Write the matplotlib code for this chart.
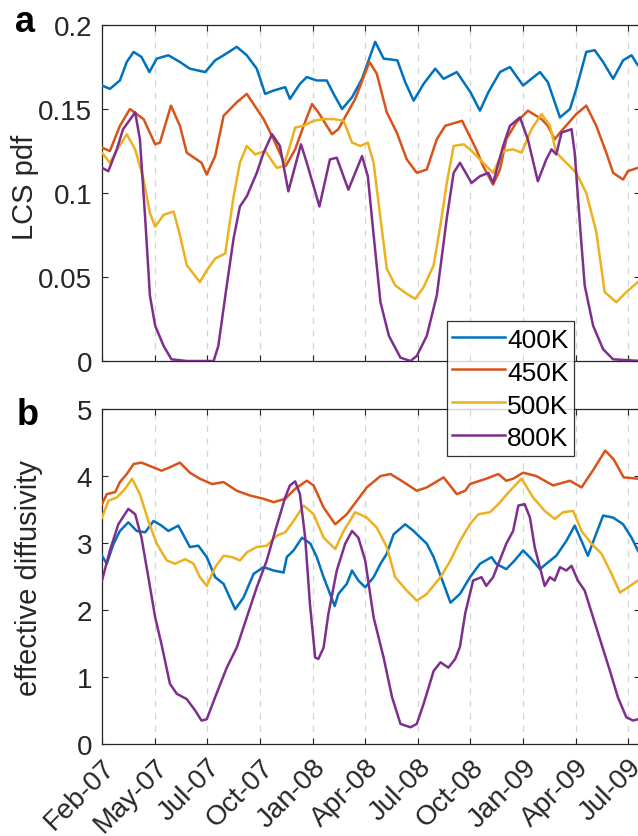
import numpy as np
import matplotlib
matplotlib.use('Agg')
import matplotlib.pyplot as plt

plt.rcParams['font.family'] = ['Liberation Sans', 'DejaVu Sans']

########## Data (x in tick units: 0 = Feb-07, 1 = May-07, ...) ##########
tick_labels = ['Feb-07', 'May-07', 'Jul-07', 'Oct-07', 'Jan-08', 'Apr-08',
               'Jul-08', 'Oct-08', 'Jan-09', 'Apr-09', 'Jul-09']
series_names = ['400K', '450K', '500K', '800K']
colors = ['#0072BD', '#D95319', '#EDB120', '#7E2F8E']

# panel a: LCS pdf
t_a400 = [0, 0.15, 0.34, 0.47, 0.60, 0.75, 0.90, 1.04, 1.26, 1.48, 1.67, 1.96, 2.15, 2.31, 2.56,
          2.75, 2.94, 3.10, 3.26, 3.48, 3.57, 3.76, 3.89, 4.08, 4.27, 4.40, 4.56, 4.75, 4.94, 5.19,
          5.35, 5.61, 5.76, 5.92, 6.11, 6.33, 6.49, 6.74, 7.0, 7.18, 7.34, 7.56, 7.75, 8.0, 8.32,
          8.47, 8.70, 8.89, 9.01, 9.20, 9.36, 9.52, 9.71, 9.90, 10.06, 10.18, 10.25]
v_a400 = [0.164, 0.162, 0.167, 0.178, 0.184, 0.181, 0.172, 0.180, 0.182, 0.178, 0.174, 0.172, 0.179,
          0.182, 0.187, 0.182, 0.174, 0.159, 0.161, 0.163, 0.156, 0.165, 0.169, 0.167, 0.167, 0.159,
          0.150, 0.157, 0.168, 0.190, 0.180, 0.179, 0.166, 0.155, 0.165, 0.174, 0.168, 0.172, 0.160,
          0.149, 0.160, 0.172, 0.175, 0.164, 0.172, 0.166, 0.145, 0.150, 0.162, 0.184, 0.185, 0.178,
          0.168, 0.179, 0.182, 0.176, 0.175]

t_a450 = [0, 0.15, 0.34, 0.53, 0.79, 1.01, 1.10, 1.31, 1.48, 1.61, 1.89, 1.99, 2.15, 2.31, 2.56,
          2.75, 3.07, 3.26, 3.49, 3.67, 3.83, 3.99, 4.11, 4.37, 4.49, 4.81, 5.08, 5.22, 5.41, 5.60,
          5.79, 5.98, 6.17, 6.36, 6.52, 6.84, 6.92, 7.11, 7.24, 7.43, 7.56, 7.68, 7.87, 8.09, 8.35,
          8.47, 8.60, 8.73, 9.01, 9.20, 9.39, 9.58, 9.71, 9.90, 9.99, 10.18, 10.25]
v_a450 = [0.127, 0.125, 0.140, 0.150, 0.144, 0.129, 0.130, 0.152, 0.140, 0.124, 0.118, 0.111, 0.122,
          0.146, 0.154, 0.159, 0.144, 0.132, 0.116, 0.126, 0.140, 0.153, 0.148, 0.135, 0.138, 0.156,
          0.178, 0.171, 0.148, 0.136, 0.120, 0.112, 0.114, 0.132, 0.140, 0.143, 0.138, 0.126, 0.116,
          0.105, 0.114, 0.132, 0.142, 0.149, 0.144, 0.140, 0.132, 0.137, 0.147, 0.152, 0.140, 0.124,
          0.112, 0.108, 0.113, 0.115, 0.115]

t_a500 = [0, 0.15, 0.31, 0.47, 0.63, 0.79, 0.91, 1.01, 1.17, 1.36, 1.48, 1.61, 1.86, 1.99, 2.15,
          2.34, 2.50, 2.62, 2.75, 2.91, 3.10, 3.32, 3.45, 3.57, 3.67, 3.83, 4.02, 4.21, 4.40, 4.59,
          4.75, 4.91, 5.05, 5.16, 5.29, 5.41, 5.57, 5.79, 5.95, 6.11, 6.30, 6.43, 6.55, 6.68, 6.87,
          6.99, 7.18, 7.43, 7.62, 7.81, 7.97, 8.16, 8.35, 8.51, 8.63, 8.82, 9.01, 9.20, 9.39, 9.55,
          9.77, 9.96, 10.18, 10.25]
v_a500 = [0.124, 0.118, 0.127, 0.135, 0.126, 0.108, 0.088, 0.080, 0.087, 0.089, 0.075, 0.057, 0.047,
          0.054, 0.061, 0.064, 0.098, 0.118, 0.128, 0.123, 0.125, 0.115, 0.116, 0.128, 0.139, 0.140,
          0.143, 0.144, 0.144, 0.143, 0.130, 0.128, 0.130, 0.118, 0.085, 0.055, 0.045, 0.040, 0.037,
          0.044, 0.057, 0.081, 0.106, 0.128, 0.129, 0.126, 0.120, 0.112, 0.125, 0.126, 0.124, 0.138,
          0.147, 0.140, 0.124, 0.118, 0.112, 0.100, 0.077, 0.041, 0.035, 0.041, 0.047, 0.048]

t_a800 = [0, 0.12, 0.28, 0.40, 0.63, 0.72, 0.82, 0.91, 1.01, 1.17, 1.32, 1.61, 2.12, 2.21, 2.37,
          2.50, 2.62, 2.75, 2.94, 3.07, 3.23, 3.38, 3.54, 3.78, 3.89, 4.02, 4.13, 4.33, 4.46, 4.68,
          4.94, 5.05, 5.16, 5.29, 5.45, 5.67, 5.86, 5.98, 6.17, 6.36, 6.55, 6.68, 6.80, 7.02, 7.18,
          7.34, 7.43, 7.62, 7.75, 7.94, 8.09, 8.28, 8.44, 8.54, 8.63, 8.73, 8.92, 8.98, 9.08, 9.17,
          9.33, 9.52, 9.71, 10.25]
v_a800 = [0.115, 0.113, 0.126, 0.138, 0.148, 0.132, 0.085, 0.039, 0.021, 0.009, 0.001, 0.0, 0.0,
          0.009, 0.045, 0.073, 0.092, 0.098, 0.112, 0.124, 0.135, 0.128, 0.101, 0.129, 0.118, 0.104,
          0.092, 0.120, 0.121, 0.102, 0.122, 0.110, 0.075, 0.035, 0.015, 0.002, 0.0, 0.003, 0.015,
          0.039, 0.085, 0.112, 0.118, 0.106, 0.110, 0.112, 0.106, 0.128, 0.140, 0.145, 0.132, 0.107,
          0.120, 0.126, 0.123, 0.136, 0.138, 0.124, 0.081, 0.045, 0.021, 0.007, 0.001, 0.0]

# panel b: effective diffusivity
t_b400 = [0, 0.09, 0.22, 0.34, 0.50, 0.66, 0.82, 0.98, 1.13, 1.26, 1.45, 1.67, 1.83, 1.99, 2.15,
          2.31, 2.53, 2.69, 2.88, 3.07, 3.26, 3.45, 3.51, 3.64, 3.80, 3.96, 4.08, 4.21, 4.42, 4.49,
          4.65, 4.75, 4.87, 5.00, 5.16, 5.29, 5.41, 5.54, 5.76, 5.92, 6.05, 6.17, 6.30, 6.49, 6.62,
          6.80, 6.99, 7.18, 7.40, 7.49, 7.68, 7.84, 8.0, 8.16, 8.32, 8.47, 8.63, 8.82, 8.98, 9.11,
          9.23, 9.36, 9.52, 9.71, 9.90, 10.06, 10.18, 10.25]
v_b400 = [2.81, 2.69, 2.99, 3.18, 3.31, 3.18, 3.16, 3.33, 3.26, 3.18, 3.26, 2.94, 2.96, 2.79, 2.49,
          2.39, 2.01, 2.19, 2.54, 2.64, 2.59, 2.56, 2.79, 2.89, 3.08, 2.99, 2.79, 2.49, 2.06, 2.24,
          2.39, 2.59, 2.44, 2.34, 2.49, 2.69, 2.84, 3.13, 3.28, 3.18, 3.08, 2.99, 2.79, 2.39, 2.11,
          2.24, 2.49, 2.69, 2.79, 2.69, 2.61, 2.74, 2.89, 2.76, 2.61, 2.71, 2.81, 3.03, 3.26, 3.03,
          2.81, 3.08, 3.41, 3.38, 3.28, 3.08, 2.89, 2.80]

t_b450 = [0, 0.09, 0.25, 0.34, 0.47, 0.60, 0.75, 0.91, 1.13, 1.29, 1.48, 1.67, 1.86, 2.09, 2.31,
          2.56, 2.81, 3.07, 3.26, 3.48, 3.67, 3.89, 4.02, 4.21, 4.43, 4.65, 4.84, 5.03, 5.29, 5.48,
          5.73, 5.98, 6.17, 6.49, 6.74, 6.90, 6.99, 7.18, 7.30, 7.53, 7.68, 7.81, 8.0, 8.25, 8.57,
          8.89, 9.11, 9.34, 9.56, 9.72, 9.91, 10.18, 10.25]
v_b450 = [3.58, 3.73, 3.76, 3.91, 4.03, 4.18, 4.20, 4.15, 4.08, 4.13, 4.20, 4.05, 3.96, 3.88, 3.91,
          3.78, 3.71, 3.66, 3.61, 3.66, 3.81, 3.93, 3.86, 3.53, 3.28, 3.43, 3.63, 3.83, 4.00, 4.03,
          3.91, 3.78, 3.83, 3.98, 3.73, 3.78, 3.88, 3.93, 3.96, 4.03, 3.93, 3.96, 4.05, 4.00, 3.86,
          3.93, 3.83, 4.10, 4.38, 4.25, 3.98, 3.96, 3.96]

t_b500 = [0, 0.12, 0.28, 0.44, 0.57, 0.72, 0.88, 1.04, 1.23, 1.39, 1.58, 1.74, 1.86, 1.99, 2.15,
          2.31, 2.47, 2.62, 2.75, 2.94, 3.13, 3.32, 3.48, 3.64, 3.83, 4.02, 4.21, 4.43, 4.59, 4.81,
          5.03, 5.22, 5.41, 5.57, 5.79, 5.98, 6.17, 6.43, 6.62, 6.80, 6.99, 7.15, 7.37, 7.53, 7.75,
          7.97, 8.19, 8.41, 8.60, 8.76, 8.95, 9.11, 9.30, 9.49, 9.68, 9.84, 10.03, 10.18, 10.25]
v_b500 = [3.38, 3.63, 3.68, 3.81, 3.96, 3.73, 3.33, 2.99, 2.74, 2.69, 2.76, 2.69, 2.49, 2.36, 2.64,
          2.81, 2.79, 2.74, 2.86, 2.94, 2.96, 3.11, 3.16, 3.33, 3.56, 3.43, 3.08, 2.91, 3.18, 3.46,
          3.38, 3.23, 2.94, 2.49, 2.29, 2.14, 2.24, 2.49, 2.74, 3.03, 3.28, 3.43, 3.46, 3.58, 3.78,
          3.96, 3.68, 3.48, 3.36, 3.46, 3.48, 3.18, 2.99, 2.84, 2.54, 2.26, 2.36, 2.44, 2.47]

t_b800 = [0, 0.15, 0.31, 0.50, 0.63, 0.75, 0.88, 1.01, 1.13, 1.29, 1.42, 1.61, 1.77, 1.89, 1.99,
          2.15, 2.37, 2.56, 2.75, 2.94, 3.13, 3.29, 3.48, 3.57, 3.67, 3.76, 3.86, 3.95, 4.05, 4.11,
          4.21, 4.30, 4.46, 4.62, 4.75, 4.87, 5.00, 5.16, 5.35, 5.51, 5.67, 5.86, 5.98, 6.11, 6.30,
          6.43, 6.58, 6.71, 6.80, 6.90, 7.05, 7.21, 7.30, 7.43, 7.68, 7.81, 7.91, 8.03, 8.13, 8.22,
          8.41, 8.51, 8.60, 8.70, 8.82, 8.92, 9.04, 9.17, 9.33, 9.49, 9.65, 9.80, 9.96, 10.09, 10.18,
          10.25]
v_b800 = [2.44, 2.89, 3.28, 3.51, 3.43, 3.08, 2.49, 1.89, 1.49, 0.90, 0.75, 0.67, 0.50, 0.35, 0.37,
          0.70, 1.14, 1.44, 1.89, 2.34, 2.74, 3.18, 3.68, 3.86, 3.92, 3.73, 3.08, 2.09, 1.29, 1.27,
          1.44, 1.94, 2.59, 2.99, 3.18, 3.08, 2.74, 1.89, 1.29, 0.70, 0.30, 0.25, 0.30, 0.60, 1.09,
          1.22, 1.14, 1.27, 1.45, 1.95, 2.44, 2.49, 2.36, 2.49, 2.99, 3.18, 3.56, 3.58, 3.38, 2.94,
          2.36, 2.49, 2.44, 2.64, 2.59, 2.66, 2.44, 2.29, 1.89, 1.49, 1.09, 0.70, 0.40, 0.35, 0.37,
          0.38]

########## Figure ##########
fig = plt.figure(figsize=(6.38, 8.37), dpi=100)
ax_a = fig.add_axes([0.1599, 0.5675, 0.8440, 0.4014])
ax_b = fig.add_axes([0.1599, 0.1099, 0.8440, 0.4002])

panel_a = [(t_a400, v_a400), (t_a450, v_a450), (t_a500, v_a500), (t_a800, v_a800)]
panel_b = [(t_b400, v_b400), (t_b450, v_b450), (t_b500, v_b500), (t_b800, v_b800)]

handles = []
for (ta, va), (tb, vb), c, name in zip(panel_a, panel_b, colors, series_names):
    ax_a.plot(ta, va, color=c, lw=1.8, zorder=3)
    h, = ax_b.plot(tb, vb, color=c, lw=1.8, zorder=3, label=name)
    handles.append(h)

xticks = np.arange(len(tick_labels))
for ax in (ax_a, ax_b):
    ax.set_xlim(0, 10.23)
    ax.set_xticks(xticks)
    for x in xticks[1:]:
        ax.axvline(x, color='#d4d4d4', lw=0.9, ls=(0, (5, 5)), zorder=1)
    ax.tick_params(direction='in', length=4, width=0.8, top=True, right=True,
                   labelsize=20, colors='#262626', pad=7)
    for s in ax.spines.values():
        s.set_color('#262626')
        s.set_linewidth(0.9)

ax_a.set_ylim(0, 0.2)
ax_a.set_yticks([0, 0.05, 0.1, 0.15, 0.2])
ax_a.set_yticklabels(['0', '0.05', '0.1', '0.15', '0.2'])
ax_a.set_xticklabels([])
ax_a.set_ylabel('LCS pdf', fontsize=21, color='#262626')
ax_a.yaxis.set_label_coords(-0.117, 0.52)

ax_b.set_ylim(0, 5)
ax_b.set_yticks([0, 1, 2, 3, 4, 5])
ax_b.set_xticklabels(tick_labels, rotation=45, ha='right', rotation_mode='anchor')
ax_b.set_ylabel('effective diffusivity', fontsize=21, color='#262626')
ax_b.yaxis.set_label_coords(-0.110, 0.5)

fig.text(0.0235, 0.9618, 'a', fontsize=26, fontweight='bold', va='baseline')
fig.text(0.0266, 0.4922, 'b', fontsize=26, fontweight='bold', va='baseline')

leg = fig.legend(handles=handles, loc='upper left', bbox_to_anchor=(0.700, 0.6153),
                 fontsize=19, frameon=True, fancybox=False, edgecolor='black',
                 handlelength=2.0, handleheight=1.0, handletextpad=0.1,
                 labelspacing=0.26, borderpad=0.2, borderaxespad=0)
leg.get_frame().set_linewidth(0.9)
leg.set_zorder(10)

fig.savefig('out.png', dpi=100)
